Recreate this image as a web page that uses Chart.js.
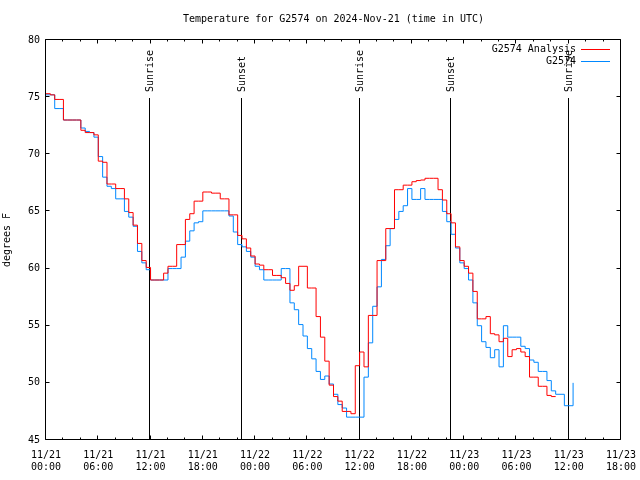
<!DOCTYPE html>
<html>
<head>
<meta charset="utf-8">
<script src="https://cdn.jsdelivr.net/npm/chart.js@4.4.1/dist/chart.umd.min.js"></script>
<style>
html,body{margin:0;padding:0;background:#fff;}
#wrap{width:640px;height:480px;}
</style>
</head>
<body>
<div id="wrap"><canvas id="c" width="640" height="480"></canvas></div>
<script>
// ---- Data (hours since 2024-11-21 00:00 UTC) ----
const hours = [0,0.5,1,1.5,2,2.5,3,3.5,4,4.5,5,5.5,6,6.5,7,7.5,8,8.5,9,9.5,10,10.5,11,11.5,12,12.5,13,13.5,14,14.5,15,15.5,16,16.5,17,17.5,18,18.5,19,19.5,20,20.5,21,21.5,22,22.5,23,23.5,24,24.5,25,25.5,26,26.5,27,27.5,28,28.5,29,29.5,30,30.5,31,31.5,32,32.5,33,33.5,34,34.5,35,35.5,36,36.5,37,37.5,38,38.5,39,39.5,40,40.5,41,41.5,42,42.5,43,43.5,44,44.5,45,45.5,46,46.5,47,47.5,48,48.5,49,49.5,50,50.5,51,51.5,52,52.5,53,53.5,54,54.5,55,55.5,56,56.5,57,57.5,58,58.5,59,59.5,60,60.5];

const analysisTemps = [
  75.3,75.2,74.8,74.8,73.0,73.0,73.0,73.0,72.1,71.9,
  71.9,71.7,69.4,69.3,67.4,67.4,67.0,67.0,66.1,64.9,
  63.8,62.2,60.7,60.1,59.0,59.0,59.0,59.6,60.2,60.2,
  62.1,62.1,64.3,64.8,65.9,65.9,66.7,66.7,66.6,66.6,
  66.1,66.1,64.7,64.7,62.9,62.6,61.8,61.1,60.4,60.3,
  59.9,59.9,59.4,59.4,59.2,58.7,58.1,58.5,60.2,60.2,
  58.3,58.3,55.8,54.0,51.9,49.8,48.8,48.4,47.5,47.5,
  47.3,51.5,52.7,51.4,55.9,55.9,60.7,60.7,63.5,63.5,
  66.9,66.9,67.3,67.3,67.6,67.7,67.75,67.9,67.9,67.9,
  66.9,66.0,64.8,64.0,61.9,60.7,60.2,59.6,58.0,55.6,
  55.6,55.8,54.3,54.2,53.6,53.9,52.3,52.9,53.0,52.7,
  52.3,50.5,50.5,49.7,49.7,48.9,48.8,48.8,null,null,
  null,null
];

const stationTemps = [
  75.2,75.2,74.0,74.0,73.0,73.0,73.0,73.0,72.3,72.0,
  71.9,71.5,69.8,68.0,67.2,67.0,66.1,66.1,65.0,64.5,
  63.7,61.5,60.5,59.9,59.0,59.0,59.0,59.0,60.0,60.0,
  60.0,61.0,62.4,63.3,64.0,64.1,65.05,65.05,65.05,65.05,
  65.05,65.05,64.6,63.2,62.1,61.9,61.5,61.0,60.2,59.9,
  59.0,59.0,59.0,59.0,60.0,60.0,57.0,56.4,55.1,54.1,
  53.0,52.1,51.0,50.3,50.6,49.9,49.0,48.1,47.8,47.0,
  47.0,47.0,47.0,50.5,53.5,56.7,58.4,60.8,62.0,63.5,
  64.3,65.0,65.5,67.0,66.05,66.05,67.0,66.05,66.05,66.05,
  66.05,65.0,64.1,63.0,61.8,60.5,60.0,59.0,57.0,55.0,
  53.6,53.1,52.2,52.9,51.4,55.0,54.0,54.0,54.0,53.2,
  53.0,52.0,51.8,51.0,51.0,50.2,49.3,49.0,49.0,48.0,
  48.0,50.0
];

const seriesNames = ['G2574 Analysis', 'G2574'];
const chartTitle = 'Temperature for G2574 on 2024-Nov-21 (time in UTC)';
const xTickDates = ['11/21','11/21','11/21','11/21','11/22','11/22','11/22','11/22','11/23','11/23','11/23','11/23'];
const xTickTimes = ['00:00','06:00','12:00','18:00','00:00','06:00','12:00','18:00','00:00','06:00','12:00','18:00'];
const sunEventHours = [11.9, 22.5, 36.0, 46.5, 60.0];
const sunEventNames = ['Sunrise','Sunset','Sunrise','Sunset','Sunrise'];

// ---- Style ----
const FONT_FAMILY = "'DejaVu Sans Mono', 'Liberation Mono', monospace";
const FONT_SIZE = 10;
const FONT_CSS = FONT_SIZE + 'px ' + FONT_FAMILY;
const RED = '#ff0000';
const BLUE = '#0088ff';

const marksPlugin = {
  id: 'marks',
  beforeDatasetsDraw(chart) {
    const {ctx, chartArea: a, scales: {x}} = chart;
    ctx.save();
    ctx.strokeStyle = '#000';
    ctx.lineWidth = 1;
    ctx.font = FONT_CSS;
    ctx.fillStyle = '#000';
    // title, centred over the plot area
    ctx.textAlign = 'center';
    ctx.textBaseline = 'middle';
    ctx.fillText(chartTitle, (a.left + a.right) / 2, 19);
    sunEventHours.forEach((h, i) => {
      const px = Math.round(x.getPixelForValue(h)) - 0.5;
      ctx.beginPath();
      ctx.moveTo(px, a.top + 58);
      ctx.lineTo(px, a.bottom);
      ctx.stroke();
      ctx.save();
      ctx.translate(px + 1, a.top + 52);
      ctx.rotate(-Math.PI / 2);
      ctx.textAlign = 'left';
      ctx.textBaseline = 'middle';
      ctx.fillText(sunEventNames[i], 0, 0);
      ctx.restore();
    });
    ctx.restore();
  },
  afterDatasetsDraw(chart) {
    const {ctx, chartArea: a, scales: {x, y}} = chart;
    ctx.save();
    ctx.strokeStyle = '#000';
    ctx.lineWidth = 1;
    const L = Math.round(a.left) - 0.5, R = Math.round(a.right) - 0.5;
    const T = Math.round(a.top) - 0.5, B = Math.round(a.bottom) - 0.5;
    ctx.beginPath();
    ctx.rect(L, T, R - L, B - T);
    ctx.stroke();
    // x ticks: major every 6 h, minor every 2 h (bottom + mirrored top)
    ctx.beginPath();
    for (let h = x.min; h <= x.max + 1e-9; h += 2) {
      const px = Math.round(x.getPixelForValue(h)) - 0.5;
      const len = (h % 6 === 0) ? 4 : 2;
      ctx.moveTo(px, B); ctx.lineTo(px, B - len);
      ctx.moveTo(px, T); ctx.lineTo(px, T + len);
    }
    // y ticks every 5 (left + mirrored right)
    for (let v = y.min; v <= y.max + 1e-9; v += 5) {
      const py = Math.round(y.getPixelForValue(v)) - 0.5;
      ctx.moveTo(L, py); ctx.lineTo(L + 4, py);
      ctx.moveTo(R, py); ctx.lineTo(R - 4, py);
    }
    ctx.stroke();
    // legend
    ctx.font = FONT_CSS;
    ctx.fillStyle = '#000';
    ctx.textAlign = 'right';
    ctx.textBaseline = 'middle';
    chart.data.datasets.forEach((ds, i) => {
      const ly = a.top + 9.5 + i * 12;
      ctx.fillText(ds.label, a.right - 45, ly);
      ctx.strokeStyle = ds.borderColor;
      ctx.beginPath();
      ctx.moveTo(a.right - 40, Math.round(ly) - 0.5);
      ctx.lineTo(a.right - 11, Math.round(ly) - 0.5);
      ctx.stroke();
    });
    ctx.restore();
  }
};

const seriesData = [analysisTemps, stationTemps].map(arr => hours.map((h, i) => ({x: h, y: arr[i]})));

new Chart(document.getElementById('c'), {
  type: 'line',
  data: {
    datasets: [
      { label: seriesNames[0], data: seriesData[0], borderColor: RED, backgroundColor: RED,
        borderWidth: 1, pointRadius: 0, stepped: true, spanGaps: false },
      { label: seriesNames[1], data: seriesData[1], borderColor: BLUE, backgroundColor: BLUE,
        borderWidth: 1, pointRadius: 0, stepped: true, spanGaps: false }
    ]
  },
  options: {
    responsive: false,
    animation: false,
    devicePixelRatio: 1,
    layout: { padding: { left: 0, right: 19, top: 40, bottom: 0 } },
    plugins: {
      legend: { display: false },
      tooltip: { enabled: false },
      title: { display: false }
    },
    scales: {
      x: {
        type: 'linear',
        min: 0,
        max: 66,
        afterFit: s => { s.height = 40; s.paddingLeft = 0; s.paddingRight = 0; },
        border: { display: false },
        grid: { display: false, drawTicks: false },
        ticks: {
          stepSize: 6,
          autoSkip: false,
          maxRotation: 0,
          color: '#000',
          padding: 9,
          font: { family: FONT_FAMILY, size: FONT_SIZE, lineHeight: 1.2 },
          callback: (v, i) => [xTickDates[i], xTickTimes[i]]
        }
      },
      y: {
        min: 45,
        max: 80,
        afterFit: s => { s.width = 46; s.paddingTop = 0; s.paddingBottom = 0; },
        border: { display: false },
        grid: { display: false, drawTicks: false },
        ticks: {
          stepSize: 5,
          color: '#000',
          padding: 6,
          font: { family: FONT_FAMILY, size: FONT_SIZE }
        },
        title: {
          display: true,
          text: 'degrees F',
          color: '#000',
          font: { family: FONT_FAMILY, size: FONT_SIZE, lineHeight: 1.2 },
          padding: { top: 1, bottom: 0 }
        }
      }
    }
  },
  plugins: [marksPlugin]
});
</script>
</body>
</html>
